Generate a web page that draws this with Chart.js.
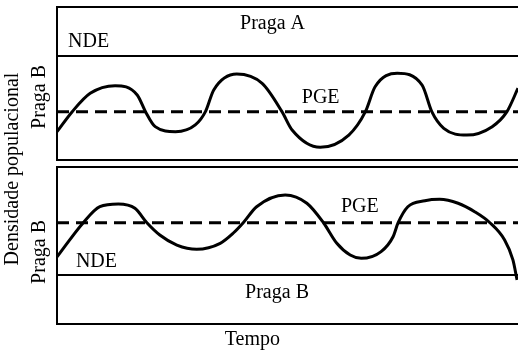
<!DOCTYPE html>
<html>
<head>
<meta charset="utf-8">
<script src="https://cdn.jsdelivr.net/npm/chart.js@4/dist/chart.umd.min.js"></script>
<style>
  html, body { margin: 0; padding: 0; background: #fff; }
  #wrap { position: relative; width: 518px; height: 350px; }
  #wrap canvas { position: absolute; left: 0; top: 0; }
</style>
</head>
<body>
<div id="wrap">
  <canvas id="chart-b" width="518" height="350"></canvas>
  <canvas id="chart-a" width="518" height="350"></canvas>
</div>
<script>
// Praga A (top panel): time vs population density
const timeA = [0, 3.3, 7.2, 12.6, 17.4, 19.2, 21.3, 25.7, 30.0, 32.2, 34.0, 39.0, 44.5, 48.8,
  51.0, 57.1, 63.3, 66.9, 69.0, 73.8, 79.2, 81.3, 83.9, 88.9, 94.4, 97.6, 100];
const densA = [18.5, 31.6, 43.6, 48.6, 42.5, 31.6, 21.8, 18.5, 22.9, 31.6, 45.8, 56.2, 50.1, 31.6,
  19.6, 8.3, 16.3, 31.6, 47.9, 56.7, 49.0, 31.6, 20.7, 16.3, 21.8, 31.6, 46.9];
const ndeA = 68;
const pgeA = 31.6;

// Praga B (bottom panel)
const timeB = [0, 5.7, 9.3, 13.3, 16.9, 19.5, 22.3, 26.0, 30.3, 35.4, 38.2, 40.4, 43.3, 49.5,
  54.2, 57.8, 60.7, 63.6, 66.0, 70.3, 72.9, 74.0, 76.1, 79.8, 83.0, 87.0, 90.6, 93.9, 97.1,
  98.9, 99.8];
const densB = [42.7, 64.5, 74.7, 76.4, 73.7, 64.5, 56.7, 50.3, 47.6, 51.4, 57.8, 64.5, 74.7, 82.2,
  76.9, 64.5, 51.4, 43.9, 41.8, 46.1, 55.6, 64.5, 74.7, 78.5, 79.4, 76.9, 71.5, 64.5, 53.5,
  40.8, 28.0];
const ndeB = 31.2;
const pgeB = 64.5;

const labelsA = [
  { text: "Praga A", x: 39.7, y: 85.6 },
  { text: "NDE", x: 2.4, y: 73.9 },
  { text: "PGE", x: 53.1, y: 37.3 },
  { text: "Praga B", x: -3.7, y: 41.2, rotate: true },
  { text: "Densidade populacional", x: -9.5, y: -5.9, rotate: true },
];
const labelsB = [
  { text: "PGE", x: 61.6, y: 71.3 },
  { text: "NDE", x: 4.1, y: 36.3 },
  { text: "Praga B", x: 40.8, y: 16.6 },
  { text: "Praga B", x: -3.7, y: 45.9, rotate: true },
  { text: "Tempo", x: 36.4, y: -13.4 },
];

const FONT = "20px 'Liberation Serif', 'DejaVu Serif', serif";

const textPlugin = {
  id: "textLabels",
  afterDraw(chart, args, opts) {
    const { ctx, scales } = chart;
    ctx.save();
    ctx.font = FONT;
    ctx.fillStyle = "#000";
    (opts.items || []).forEach((l) => {
      const px = scales.x.getPixelForValue(l.x);
      const py = scales.y.getPixelForValue(l.y);
      if (l.rotate) {
        ctx.save();
        ctx.translate(px, py);
        ctx.rotate(-Math.PI / 2);
        ctx.textAlign = "center";
        ctx.textBaseline = "middle";
        ctx.fillText(l.text, 0, 0);
        ctx.restore();
      } else {
        ctx.textAlign = "left";
        ctx.textBaseline = "alphabetic";
        ctx.fillText(l.text, px, py);
      }
    });
    ctx.restore();
  },
};

const pts = (xs, ys) => xs.map((x, i) => ({ x, y: ys[i] }));
const flat = (v) => [{ x: 0, y: v }, { x: 100, y: v }];

const axis = (extra) => Object.assign({
  type: "linear",
  min: 0,
  max: 100,
  ticks: { display: false },
  grid: { display: false },
  border: { display: true, color: "#000", width: 2 },
}, extra);

const makeChart = (canvas, curveX, curveY, nde, pge, labels, box) => new Chart(canvas, {
  type: "line",
  data: {
    datasets: [
      {
        data: pts(curveX, curveY),
        borderColor: "#000",
        borderWidth: 3,
        pointRadius: 0,
        cubicInterpolationMode: "monotone",
      },
      {
        data: flat(pge),
        borderColor: "#000",
        borderWidth: 3,
        borderDash: [12, 7],
        pointRadius: 0,
      },
      {
        data: flat(nde),
        borderColor: "#000",
        borderWidth: 2,
        pointRadius: 0,
      },
    ],
  },
  options: {
    responsive: false,
    animation: false,
    devicePixelRatio: 1,
    layout: { padding: 0 },
    plugins: {
      legend: { display: false },
      tooltip: { enabled: false },
      textLabels: { items: labels },
    },
    scales: {
      x: axis({ position: "bottom", afterFit: (s) => { s.height = box.bottom; } }),
      xTop: axis({ position: "top", afterFit: (s) => { s.height = box.top; } }),
      y: axis({ position: "left", afterFit: (s) => { s.width = 57; } }),
    },
  },
  plugins: [textPlugin],
});

makeChart(document.getElementById("chart-b"), timeB, densB, ndeB, pgeB, labelsB, { top: 167, bottom: 350 - 324 });
makeChart(document.getElementById("chart-a"), timeA, densA, ndeA, pgeA, labelsA, { top: 7, bottom: 350 - 160 });
</script>
</body>
</html>
